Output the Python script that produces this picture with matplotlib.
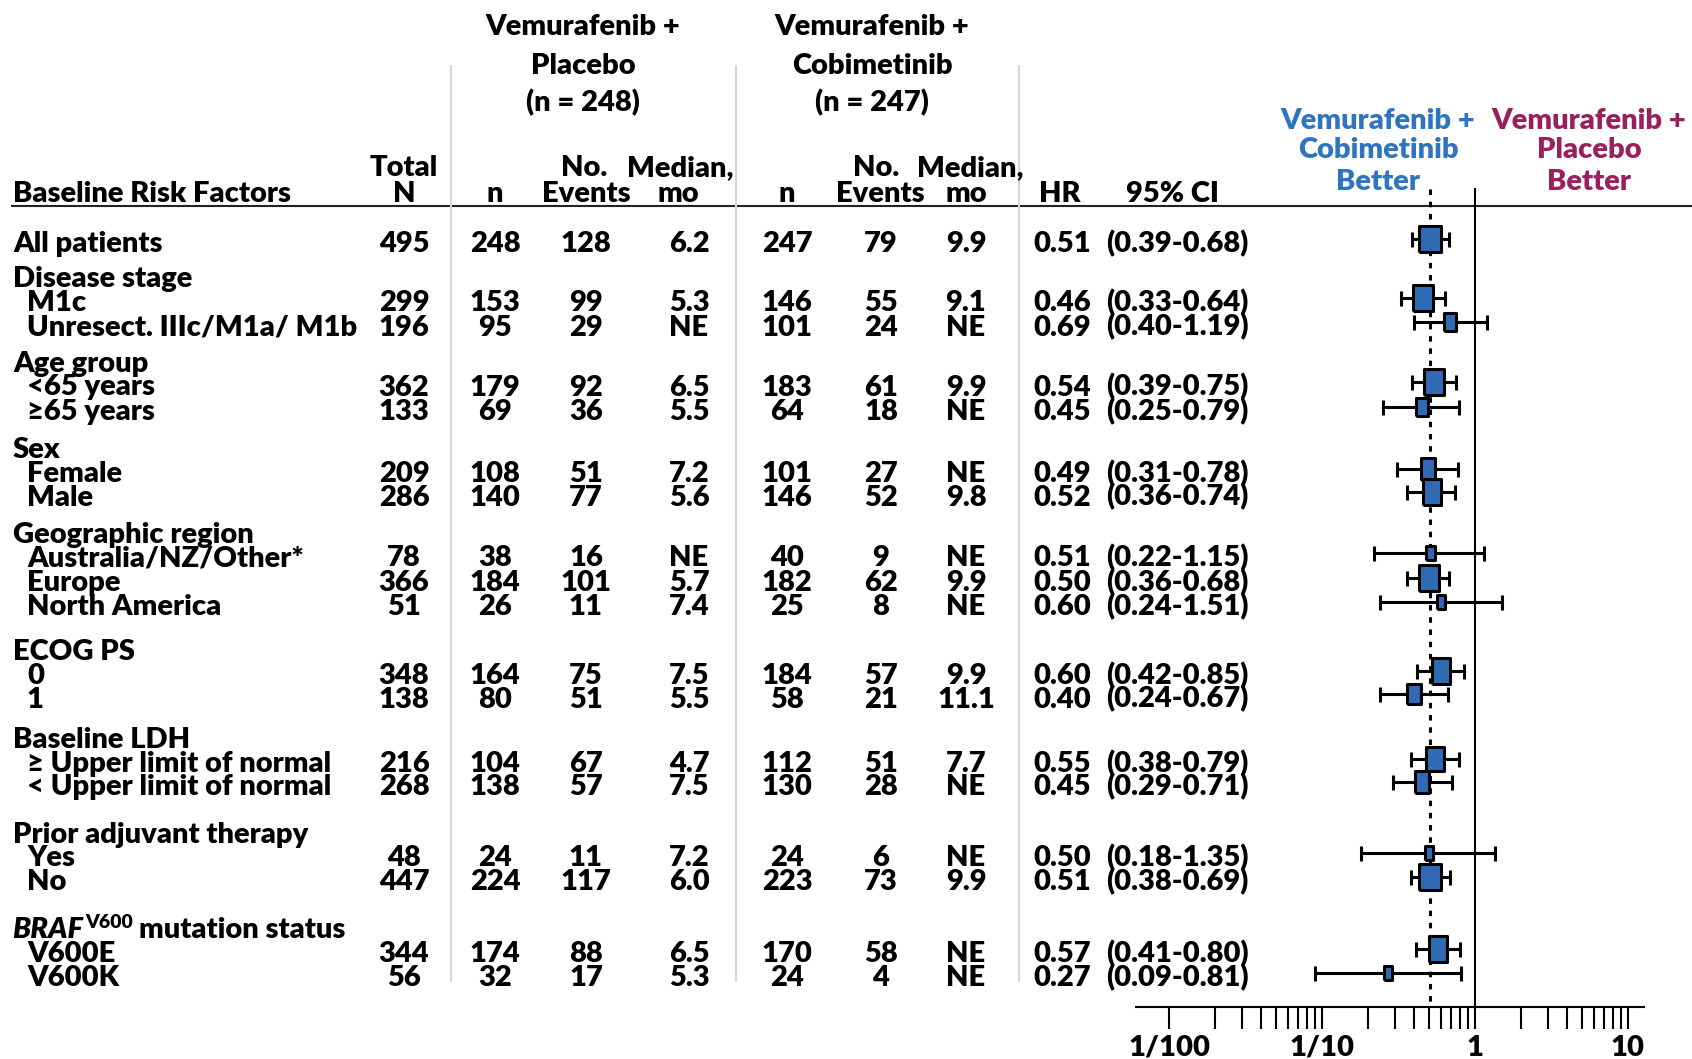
import numpy as np
import matplotlib.pyplot as plt
from matplotlib.ticker import FixedLocator, FixedFormatter, NullFormatter

plt.rcParams['font.family'] = ['Lato', 'DejaVu Sans']
plt.rcParams['font.weight'] = 'heavy'

# subgroup rows; None = heading row without numbers
labels = ["All patients", "Disease stage", "M1c", "Unresect. IIIc/M1a/ M1b",
          "Age group", "<65 years", "≥65 years", "Sex", "Female", "Male",
          "Geographic region", "Australia/NZ/Other*", "Europe", "North America",
          "ECOG PS", "0", "1", "Baseline LDH", "≥ Upper limit of normal",
          "< Upper limit of normal", "Prior adjuvant therapy", "Yes", "No",
          "BRAF", "V600E", "V600K"]
total_n = [495, None, 299, 196, None, 362, 133, None, 209, 286, None, 78, 366, 51,
           None, 348, 138, None, 216, 268, None, 48, 447, None, 344, 56]
pbo_n = [248, None, 153, 95, None, 179, 69, None, 108, 140, None, 38, 184, 26,
         None, 164, 80, None, 104, 138, None, 24, 224, None, 174, 32]
pbo_events = [128, None, 99, 29, None, 92, 36, None, 51, 77, None, 16, 101, 11,
              None, 75, 51, None, 67, 57, None, 11, 117, None, 88, 17]
pbo_median = ["6.2", None, "5.3", "NE", None, "6.5", "5.5", None, "7.2", "5.6", None,
              "NE", "5.7", "7.4", None, "7.5", "5.5", None, "4.7", "7.5", None,
              "7.2", "6.0", None, "6.5", "5.3"]
cob_n = [247, None, 146, 101, None, 183, 64, None, 101, 146, None, 40, 182, 25,
         None, 184, 58, None, 112, 130, None, 24, 223, None, 170, 24]
cob_events = [79, None, 55, 24, None, 61, 18, None, 27, 52, None, 9, 62, 8,
              None, 57, 21, None, 51, 28, None, 6, 73, None, 58, 4]
cob_median = ["9.9", None, "9.1", "NE", None, "9.9", "NE", None, "NE", "9.8", None,
              "NE", "9.9", "NE", None, "9.9", "11.1", None, "7.7", "NE", None,
              "NE", "9.9", None, "NE", "NE"]
hr = [0.51, None, 0.46, 0.69, None, 0.54, 0.45, None, 0.49, 0.52, None, 0.51, 0.50,
      0.60, None, 0.60, 0.40, None, 0.55, 0.45, None, 0.50, 0.51, None, 0.57, 0.27]
ci_lo = [0.39, None, 0.33, 0.40, None, 0.39, 0.25, None, 0.31, 0.36, None, 0.22, 0.36,
         0.24, None, 0.42, 0.24, None, 0.38, 0.29, None, 0.18, 0.38, None, 0.41, 0.09]
ci_hi = [0.68, None, 0.64, 1.19, None, 0.75, 0.79, None, 0.78, 0.74, None, 1.15, 0.68,
         1.51, None, 0.85, 0.67, None, 0.79, 0.71, None, 1.35, 0.69, None, 0.80, 0.81]

tick_vals = [0.01, 0.1, 1, 10]
tick_labels = ["1/100", "1/10", "1", "10"]

# layout (pixels, y downward)
W, H = 1692, 1059
row_y = [242, 277.5, 301, 325.5, 362, 385.5, 410, 447.5, 472, 495.5, 532.5, 556.5,
         581, 605, 650, 674, 697.5, 737.5, 762, 785, 832.5, 856.5, 880, 928.5,
         952.5, 976]
CAP = 10           # half cap height, centre -> baseline
FS = 21
BOX = "#2F6AB3"
BLUE = "#2E74C0"
PLUM = "#9A1F5F"

fig = plt.figure(figsize=(W / 100, H / 100), dpi=100)
ax = fig.add_axes([0, 0, 1, 1])
ax.set_xlim(0, W)
ax.set_ylim(H, 0)
ax.axis('off')

# column headers
for x, lines in [(583, ["Vemurafenib +", "Placebo", "(n = 248)"]),
                 (872, ["Vemurafenib +", "Cobimetinib", "(n = 247)"])]:
    for yb, s in zip([35, 74, 111], lines):
        ax.text(x, yb, s, ha='center', va='baseline', fontsize=FS)

top_row = [(404, "Total"), (584, "No."), (680, "Median,"), (876, "No."), (970, "Median,")]
bot_row = [(404, "N"), (495, "n"), (586, "Events"), (678, "mo"), (787, "n"),
           (880, "Events"), (966, "mo"), (1060, "HR"), (1172, "95% CI")]
for x, s in top_row:
    ax.text(x, 176, s, ha='center', va='baseline', fontsize=FS)
for x, s in bot_row:
    ax.text(x, 202, s, ha='center', va='baseline', fontsize=FS)
ax.text(13, 202, "Baseline Risk Factors", ha='left', va='baseline', fontsize=FS)

for yb, s in zip([129, 158, 190], ["Vemurafenib +", "Cobimetinib", "Better"]):
    ax.text(1378, yb, s, ha='center', va='baseline', fontsize=FS, color=BLUE)
for yb, s in zip([129, 158, 190], ["Vemurafenib +", "Placebo", "Better"]):
    ax.text(1589, yb, s, ha='center', va='baseline', fontsize=FS, color=PLUM)

ax.hlines(206, 11, W, color='#222222', lw=1.5)
ax.vlines([451, 736, 1019], 65, 982, color='#D6D6D6', lw=1.5)

# table body
renderer = fig.canvas.get_renderer()
for i, lab in enumerate(labels):
    yb = row_y[i] + CAP
    heading = total_n[i] is None or i == 0
    if lab == "BRAF":
        t = ax.text(12, yb, "BRAF", style='italic', va='baseline', fontsize=FS)
        x1 = ax.transData.inverted().transform(
            (t.get_window_extent(renderer).x1, 0))[0]
        t2 = ax.text(x1 + 2, yb - 10, "V600", va='baseline', fontsize=14)
        x2 = ax.transData.inverted().transform(
            (t2.get_window_extent(renderer).x1, 0))[0]
        ax.text(x2 + 6, yb, "mutation status", va='baseline', fontsize=FS)
        continue
    ax.text(13 if heading else 27, yb, lab, ha='left', va='baseline', fontsize=FS)
    if total_n[i] is None:
        continue
    cols = [(404, total_n[i]), (495, pbo_n[i]), (586, pbo_events[i]),
            (689, pbo_median[i]), (787, cob_n[i]), (881, cob_events[i]),
            (966, cob_median[i]), (1062, f"{hr[i]:.2f}")]
    for x, v in cols:
        ax.text(x, yb, str(v), ha='center', va='baseline', fontsize=FS)
    ax.text(1106, yb, f"({ci_lo[i]:.2f}-{ci_hi[i]:.2f})", ha='left',
            va='baseline', fontsize=FS)

# forest plot on a log axis
PPD, X_ONE = 153, 1475
left, right, base = 1136, 1644, 1007
fx = fig.add_axes([left / W, (H - base) / H, (right - left) / W, base / H])
fx.set_xscale('log')
fx.set_xlim(10 ** ((left - X_ONE) / PPD), 10 ** ((right - X_ONE) / PPD))
fx.set_ylim(base, 0)
fx.patch.set_alpha(0)
for s in ['top', 'left', 'right']:
    fx.spines[s].set_visible(False)
fx.spines['bottom'].set_linewidth(1.5)
fx.set_yticks([])
fx.xaxis.set_major_locator(FixedLocator(tick_vals))
fx.xaxis.set_major_formatter(FixedFormatter(tick_labels))
fx.xaxis.set_minor_locator(FixedLocator([m * 10.0 ** e for e in (-2, -1, 0)
                                         for m in range(2, 10)]))
fx.xaxis.set_minor_formatter(NullFormatter())
fx.tick_params(axis='x', which='both', direction='out', length=16, width=1.5)
fx.tick_params(axis='x', which='major', labelsize=21, pad=4)

fx.plot([1, 1], [189, base], color='black', lw=1.5)
fx.plot([hr[0], hr[0]], [189, base], color='black', lw=2.2, dashes=(1.8, 2.2))

for i in range(len(labels)):
    if hr[i] is None:
        continue
    y = row_y[i] - 3.5
    fx.errorbar(hr[i], y, xerr=[[hr[i] - ci_lo[i]], [ci_hi[i] - hr[i]]], fmt='none',
                ecolor='black', elinewidth=2.2, capsize=5.4, capthick=2.2, zorder=2)
    ev = pbo_events[i] + cob_events[i]
    w = 5 + 1.4 * np.sqrt(ev)
    h = min(30, 9 + 1.7 * np.sqrt(ev))
    r = (w - 3) / (h - 3)
    verts = [(-r, -1), (r, -1), (r, 1), (-r, 1), (-r, -1)]
    fx.plot(hr[i], y, marker=verts, markersize=(h - 3) * 0.72, mfc=BOX, mec='black',
            mew=2.2, ls='none', zorder=3)

fig.savefig("out.png", dpi=100)
